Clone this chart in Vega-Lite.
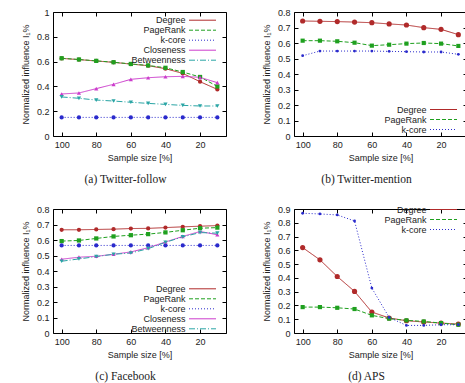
{
  "$schema": "https://vega.github.io/schema/vega-lite/v6.json",
  "padding": {"left": 20, "top": 7, "right": 0, "bottom": 0},
  "background": "white",
  "config": {
    "font": "Liberation Sans",
    "view": {"stroke": "black", "strokeWidth": 1},
    "axis": {"grid": false, "domain": false, "tickColor": "black", "tickSize": -4, "labelPadding": 8, "labelFontSize": 9, "labelColor": "#222", "titleFontSize": 9, "titleFontWeight": "normal", "titleColor": "#222", "labelFont": "Liberation Sans", "titleFont": "Liberation Sans"},
    "axisY": {"titlePadding": 6},
    "axisX": {"titlePadding": 4},
    "legend": {"symbolType": "M-3,0H3", "symbolSize": 81, "symbolStrokeWidth": 1, "labelAlign": "right", "labelOffset": -22, "rowPadding": 0, "labelFontSize": 9, "labelColor": "#222", "padding": 0, "title": null, "labelFont": "Liberation Sans"},
    "title": {"orient": "bottom", "font": "Liberation Serif", "fontSize": 11.5, "fontWeight": "normal", "color": "#222", "offset": 12, "dx": -14}
  },
  "datasets": {
    "a": [
      {"series": "Degree", "size": 100, "value": 0.626}, {"series": "Degree", "size": 90, "value": 0.616}, {"series": "Degree", "size": 80, "value": 0.605}, {"series": "Degree", "size": 70, "value": 0.594}, {"series": "Degree", "size": 60, "value": 0.58}, {"series": "Degree", "size": 50, "value": 0.567}, {"series": "Degree", "size": 40, "value": 0.543}, {"series": "Degree", "size": 30, "value": 0.505}, {"series": "Degree", "size": 20, "value": 0.438}, {"series": "Degree", "size": 10, "value": 0.376},
      {"series": "PageRank", "size": 100, "value": 0.627}, {"series": "PageRank", "size": 90, "value": 0.617}, {"series": "PageRank", "size": 80, "value": 0.606}, {"series": "PageRank", "size": 70, "value": 0.595}, {"series": "PageRank", "size": 60, "value": 0.581}, {"series": "PageRank", "size": 50, "value": 0.569}, {"series": "PageRank", "size": 40, "value": 0.55}, {"series": "PageRank", "size": 30, "value": 0.516}, {"series": "PageRank", "size": 20, "value": 0.476}, {"series": "PageRank", "size": 10, "value": 0.4},
      {"series": "k-core", "size": 100, "value": 0.15}, {"series": "k-core", "size": 90, "value": 0.15}, {"series": "k-core", "size": 80, "value": 0.15}, {"series": "k-core", "size": 70, "value": 0.15}, {"series": "k-core", "size": 60, "value": 0.15}, {"series": "k-core", "size": 50, "value": 0.15}, {"series": "k-core", "size": 40, "value": 0.15}, {"series": "k-core", "size": 30, "value": 0.15}, {"series": "k-core", "size": 20, "value": 0.15}, {"series": "k-core", "size": 10, "value": 0.15},
      {"series": "Closeness", "size": 100, "value": 0.339}, {"series": "Closeness", "size": 90, "value": 0.347}, {"series": "Closeness", "size": 80, "value": 0.382}, {"series": "Closeness", "size": 70, "value": 0.417}, {"series": "Closeness", "size": 60, "value": 0.457}, {"series": "Closeness", "size": 50, "value": 0.47}, {"series": "Closeness", "size": 40, "value": 0.478}, {"series": "Closeness", "size": 30, "value": 0.481}, {"series": "Closeness", "size": 20, "value": 0.473}, {"series": "Closeness", "size": 10, "value": 0.43},
      {"series": "Betweenness", "size": 100, "value": 0.315}, {"series": "Betweenness", "size": 90, "value": 0.304}, {"series": "Betweenness", "size": 80, "value": 0.29}, {"series": "Betweenness", "size": 70, "value": 0.282}, {"series": "Betweenness", "size": 60, "value": 0.272}, {"series": "Betweenness", "size": 50, "value": 0.263}, {"series": "Betweenness", "size": 40, "value": 0.255}, {"series": "Betweenness", "size": 30, "value": 0.247}, {"series": "Betweenness", "size": 20, "value": 0.242}, {"series": "Betweenness", "size": 10, "value": 0.242}
    ],
    "b": [
      {"series": "Degree", "size": 100, "value": 0.742}, {"series": "Degree", "size": 90, "value": 0.74}, {"series": "Degree", "size": 80, "value": 0.738}, {"series": "Degree", "size": 70, "value": 0.735}, {"series": "Degree", "size": 60, "value": 0.731}, {"series": "Degree", "size": 50, "value": 0.723}, {"series": "Degree", "size": 40, "value": 0.716}, {"series": "Degree", "size": 30, "value": 0.699}, {"series": "Degree", "size": 20, "value": 0.688}, {"series": "Degree", "size": 10, "value": 0.654},
      {"series": "PageRank", "size": 100, "value": 0.615}, {"series": "PageRank", "size": 90, "value": 0.615}, {"series": "PageRank", "size": 80, "value": 0.611}, {"series": "PageRank", "size": 70, "value": 0.602}, {"series": "PageRank", "size": 60, "value": 0.583}, {"series": "PageRank", "size": 50, "value": 0.589}, {"series": "PageRank", "size": 40, "value": 0.596}, {"series": "PageRank", "size": 30, "value": 0.6}, {"series": "PageRank", "size": 20, "value": 0.596}, {"series": "PageRank", "size": 10, "value": 0.581},
      {"series": "k-core", "size": 100, "value": 0.518}, {"series": "k-core", "size": 90, "value": 0.548}, {"series": "k-core", "size": 80, "value": 0.548}, {"series": "k-core", "size": 70, "value": 0.548}, {"series": "k-core", "size": 60, "value": 0.548}, {"series": "k-core", "size": 50, "value": 0.546}, {"series": "k-core", "size": 40, "value": 0.544}, {"series": "k-core", "size": 30, "value": 0.542}, {"series": "k-core", "size": 20, "value": 0.542}, {"series": "k-core", "size": 10, "value": 0.527}
    ],
    "c": [
      {"series": "Degree", "size": 100, "value": 0.666}, {"series": "Degree", "size": 90, "value": 0.666}, {"series": "Degree", "size": 80, "value": 0.668}, {"series": "Degree", "size": 70, "value": 0.67}, {"series": "Degree", "size": 60, "value": 0.674}, {"series": "Degree", "size": 50, "value": 0.675}, {"series": "Degree", "size": 40, "value": 0.68}, {"series": "Degree", "size": 30, "value": 0.685}, {"series": "Degree", "size": 20, "value": 0.689}, {"series": "Degree", "size": 10, "value": 0.693},
      {"series": "PageRank", "size": 100, "value": 0.593}, {"series": "PageRank", "size": 90, "value": 0.597}, {"series": "PageRank", "size": 80, "value": 0.61}, {"series": "PageRank", "size": 70, "value": 0.623}, {"series": "PageRank", "size": 60, "value": 0.631}, {"series": "PageRank", "size": 50, "value": 0.638}, {"series": "PageRank", "size": 40, "value": 0.649}, {"series": "PageRank", "size": 30, "value": 0.663}, {"series": "PageRank", "size": 20, "value": 0.676}, {"series": "PageRank", "size": 10, "value": 0.68},
      {"series": "k-core", "size": 100, "value": 0.565}, {"series": "k-core", "size": 90, "value": 0.565}, {"series": "k-core", "size": 80, "value": 0.565}, {"series": "k-core", "size": 70, "value": 0.565}, {"series": "k-core", "size": 60, "value": 0.565}, {"series": "k-core", "size": 50, "value": 0.565}, {"series": "k-core", "size": 40, "value": 0.565}, {"series": "k-core", "size": 30, "value": 0.565}, {"series": "k-core", "size": 20, "value": 0.565}, {"series": "k-core", "size": 10, "value": 0.565},
      {"series": "Closeness", "size": 100, "value": 0.476}, {"series": "Closeness", "size": 90, "value": 0.489}, {"series": "Closeness", "size": 80, "value": 0.495}, {"series": "Closeness", "size": 70, "value": 0.508}, {"series": "Closeness", "size": 60, "value": 0.523}, {"series": "Closeness", "size": 50, "value": 0.55}, {"series": "Closeness", "size": 40, "value": 0.587}, {"series": "Closeness", "size": 30, "value": 0.623}, {"series": "Closeness", "size": 20, "value": 0.655}, {"series": "Closeness", "size": 10, "value": 0.634},
      {"series": "Betweenness", "size": 100, "value": 0.463}, {"series": "Betweenness", "size": 90, "value": 0.478}, {"series": "Betweenness", "size": 80, "value": 0.493}, {"series": "Betweenness", "size": 70, "value": 0.508}, {"series": "Betweenness", "size": 60, "value": 0.516}, {"series": "Betweenness", "size": 50, "value": 0.544}, {"series": "Betweenness", "size": 40, "value": 0.585}, {"series": "Betweenness", "size": 30, "value": 0.62}, {"series": "Betweenness", "size": 20, "value": 0.648}, {"series": "Betweenness", "size": 10, "value": 0.644}
    ],
    "d": [
      {"series": "Degree", "size": 100, "value": 0.62}, {"series": "Degree", "size": 90, "value": 0.531}, {"series": "Degree", "size": 80, "value": 0.41}, {"series": "Degree", "size": 70, "value": 0.302}, {"series": "Degree", "size": 60, "value": 0.152}, {"series": "Degree", "size": 50, "value": 0.109}, {"series": "Degree", "size": 40, "value": 0.089}, {"series": "Degree", "size": 30, "value": 0.08}, {"series": "Degree", "size": 20, "value": 0.072}, {"series": "Degree", "size": 10, "value": 0.065},
      {"series": "PageRank", "size": 100, "value": 0.188}, {"series": "PageRank", "size": 90, "value": 0.188}, {"series": "PageRank", "size": 80, "value": 0.183}, {"series": "PageRank", "size": 70, "value": 0.174}, {"series": "PageRank", "size": 60, "value": 0.128}, {"series": "PageRank", "size": 50, "value": 0.104}, {"series": "PageRank", "size": 40, "value": 0.092}, {"series": "PageRank", "size": 30, "value": 0.084}, {"series": "PageRank", "size": 20, "value": 0.072}, {"series": "PageRank", "size": 10, "value": 0.06},
      {"series": "k-core", "size": 100, "value": 0.869}, {"series": "k-core", "size": 90, "value": 0.864}, {"series": "k-core", "size": 80, "value": 0.857}, {"series": "k-core", "size": 70, "value": 0.813}, {"series": "k-core", "size": 60, "value": 0.326}, {"series": "k-core", "size": 50, "value": 0.113}, {"series": "k-core", "size": 40, "value": 0.055}, {"series": "k-core", "size": 30, "value": 0.055}, {"series": "k-core", "size": 20, "value": 0.06}, {"series": "k-core", "size": 10, "value": 0.06}
    ]
  },
  "vconcat": [
    {
      "hconcat": [
        {
          "width": 173, "height": 124,
          "data": {"name": "a"},
          "title": {"text": "(a) Twitter-follow"},
          "encoding": {
            "x": {"field": "size", "type": "quantitative", "scale": {"domain": [5, 105], "reverse": true, "nice": false, "zero": false}, "axis": {"values": [100, 80, 60, 40, 20], "title": "Sample size [%]"}},
            "y": {"field": "value", "type": "quantitative", "scale": {"domain": [0, 1], "nice": false}, "axis": {"values": [0, 0.2, 0.4, 0.6, 0.8, 1], "format": "~g", "title": "Normalized influence I₁%"}},
            "color": {"field": "series", "type": "nominal", "scale": {"domain": ["Degree", "PageRank", "k-core", "Closeness", "Betweenness"], "range": ["#b02a2a", "#1fa01f", "#2a2acc", "#cc3ccc", "#2aa5a5"]}}
          },
          "layer": [
            {
              "mark": {"type": "line", "strokeWidth": 1},
              "encoding": {
                "color": {"field": "series", "type": "nominal", "legend": {"orient": "none", "legendX": 144.5, "legendY": 3.2}},
                "strokeDash": {"field": "series", "type": "nominal", "scale": {"domain": ["Degree", "PageRank", "k-core", "Closeness", "Betweenness"], "range": [[1, 0], [4, 2], [1, 2], [1, 0], [6, 2, 1, 2]]}, "legend": {"orient": "none", "legendX": 144.5, "legendY": 3.2}}
              }
            },
            {
              "mark": {"type": "point", "filled": true, "opacity": 1},
              "encoding": {
                "x": {"field": "size", "type": "quantitative", "axis": {"orient": "top", "values": [100, 80, 60, 40, 20], "labels": false, "ticks": true, "tickSize": -4, "title": null}},
                "y": {"field": "value", "type": "quantitative", "axis": {"orient": "right", "values": [0, 0.2, 0.4, 0.6, 0.8, 1], "labels": false, "ticks": true, "tickSize": -4, "title": null}},
                "color": {"field": "series", "type": "nominal", "legend": null},
                "shape": {"field": "series", "type": "nominal", "scale": {"domain": ["Betweenness", "Closeness", "k-core", "PageRank", "Degree", "_none"], "range": ["triangle-down", "triangle-up", "circle", "square", "circle", "circle"]}, "legend": null},
                "size": {"field": "series", "type": "nominal", "scale": {"domain": ["Betweenness", "Closeness", "k-core", "PageRank", "Degree", "_none"], "range": [18, 18, 8, 36, 18, 1]}, "legend": null}
              }
            }
          ],
          "resolve": {"axis": {"x": "independent", "y": "independent"}}
        },
        {
          "width": 173, "height": 124,
          "data": {"name": "b"},
          "title": {"text": "(b) Twitter-mention"},
          "encoding": {
            "x": {"field": "size", "type": "quantitative", "scale": {"domain": [5, 105], "reverse": true, "nice": false, "zero": false}, "axis": {"values": [100, 80, 60, 40, 20], "title": "Sample size [%]"}},
            "y": {"field": "value", "type": "quantitative", "scale": {"domain": [0, 0.8], "nice": false}, "axis": {"values": [0, 0.1, 0.2, 0.3, 0.4, 0.5, 0.6, 0.7, 0.8], "format": "~g", "title": "Normalized influence I₁%"}},
            "color": {"field": "series", "type": "nominal", "scale": {"domain": ["Degree", "PageRank", "k-core"], "range": ["#b02a2a", "#1fa01f", "#2a2acc"]}}
          },
          "layer": [
            {
              "mark": {"type": "line", "strokeWidth": 1},
              "encoding": {
                "color": {"field": "series", "type": "nominal", "legend": {"orient": "none", "legendX": 144.5, "legendY": 92.5}},
                "strokeDash": {"field": "series", "type": "nominal", "scale": {"domain": ["Degree", "PageRank", "k-core"], "range": [[1, 0], [4, 2], [1, 2]]}, "legend": {"orient": "none", "legendX": 144.5, "legendY": 92.5, "symbolStrokeColor": "#000", "encode": {"symbols": {"update": {"stroke": {"value": {"expr": "datum.value === 'Degree' ? '#b02a2a' : datum.value === 'PageRank' ? '#1fa01f' : '#2a2acc'"}}}}}}}
              }
            },
            {
              "mark": {"type": "point", "filled": true, "opacity": 1},
              "encoding": {
                "x": {"field": "size", "type": "quantitative", "axis": {"orient": "top", "values": [100, 80, 60, 40, 20], "labels": false, "ticks": true, "tickSize": -4, "title": null}},
                "y": {"field": "value", "type": "quantitative", "axis": {"orient": "right", "values": [0, 0.1, 0.2, 0.3, 0.4, 0.5, 0.6, 0.7, 0.8], "labels": false, "ticks": true, "tickSize": -4, "title": null}},
                "color": {"field": "series", "type": "nominal", "legend": null},
                "shape": {"field": "series", "type": "nominal", "scale": {"domain": ["k-core", "PageRank", "Degree", "_none"], "range": ["circle", "square", "circle", "circle"]}, "legend": null},
                "size": {"field": "series", "type": "nominal", "scale": {"domain": ["k-core", "PageRank", "Degree", "_none"], "range": [8, 36, 18, 1]}, "legend": null}
              }
            }
          ],
          "resolve": {"axis": {"x": "independent", "y": "independent"}}
        }
      ],
      "spacing": 68,
      "bounds": "flush",
      "resolve": {"scale": {"color": "independent", "strokeDash": "independent", "shape": "independent", "size": "independent"}, "legend": {"color": "independent", "strokeDash": "independent"}}
    },
    {
      "hconcat": [
        {
          "width": 173, "height": 124,
          "data": {"name": "c"},
          "title": {"text": "(c) Facebook"},
          "encoding": {
            "x": {"field": "size", "type": "quantitative", "scale": {"domain": [5, 105], "reverse": true, "nice": false, "zero": false}, "axis": {"values": [100, 80, 60, 40, 20], "title": "Sample size [%]"}},
            "y": {"field": "value", "type": "quantitative", "scale": {"domain": [0, 0.8], "nice": false}, "axis": {"values": [0, 0.1, 0.2, 0.3, 0.4, 0.5, 0.6, 0.7, 0.8], "format": "~g", "title": "Normalized influence I₁%"}},
            "color": {"field": "series", "type": "nominal", "scale": {"domain": ["Degree", "PageRank", "k-core", "Closeness", "Betweenness"], "range": ["#b02a2a", "#1fa01f", "#2a2acc", "#cc3ccc", "#2aa5a5"]}}
          },
          "layer": [
            {
              "mark": {"type": "line", "strokeWidth": 1},
              "encoding": {
                "color": {"field": "series", "type": "nominal", "legend": {"orient": "none", "legendX": 144.5, "legendY": 74.8}},
                "strokeDash": {"field": "series", "type": "nominal", "scale": {"domain": ["Degree", "PageRank", "k-core", "Closeness", "Betweenness"], "range": [[1, 0], [4, 2], [1, 2], [1, 0], [6, 2, 1, 2]]}, "legend": {"orient": "none", "legendX": 144.5, "legendY": 74.8}}
              }
            },
            {
              "mark": {"type": "point", "filled": true, "opacity": 1},
              "encoding": {
                "x": {"field": "size", "type": "quantitative", "axis": {"orient": "top", "values": [100, 80, 60, 40, 20], "labels": false, "ticks": true, "tickSize": -4, "title": null}},
                "y": {"field": "value", "type": "quantitative", "axis": {"orient": "right", "values": [0, 0.1, 0.2, 0.3, 0.4, 0.5, 0.6, 0.7, 0.8], "labels": false, "ticks": true, "tickSize": -4, "title": null}},
                "color": {"field": "series", "type": "nominal", "legend": null},
                "shape": {"field": "series", "type": "nominal", "scale": {"domain": ["Betweenness", "Closeness", "k-core", "PageRank", "Degree", "_none"], "range": ["triangle-down", "triangle-up", "circle", "square", "circle", "circle"]}, "legend": null},
                "size": {"field": "series", "type": "nominal", "scale": {"domain": ["Betweenness", "Closeness", "k-core", "PageRank", "Degree", "_none"], "range": [18, 18, 8, 36, 18, 1]}, "legend": null}
              }
            }
          ],
          "resolve": {"axis": {"x": "independent", "y": "independent"}}
        },
        {
          "width": 173, "height": 124,
          "data": {"name": "d"},
          "title": {"text": "(d) APS"},
          "encoding": {
            "x": {"field": "size", "type": "quantitative", "scale": {"domain": [5, 105], "reverse": true, "nice": false, "zero": false}, "axis": {"values": [100, 80, 60, 40, 20], "title": "Sample size [%]"}},
            "y": {"field": "value", "type": "quantitative", "scale": {"domain": [0, 0.9], "nice": false}, "axis": {"values": [0, 0.1, 0.2, 0.3, 0.4, 0.5, 0.6, 0.7, 0.8, 0.9], "format": "~g", "title": "Normalized influence I₁%"}},
            "color": {"field": "series", "type": "nominal", "scale": {"domain": ["Degree", "PageRank", "k-core"], "range": ["#b02a2a", "#1fa01f", "#2a2acc"]}}
          },
          "layer": [
            {
              "mark": {"type": "line", "strokeWidth": 1},
              "encoding": {
                "color": {"field": "series", "type": "nominal", "legend": {"orient": "none", "legendX": 144.5, "legendY": -4.5}},
                "strokeDash": {"field": "series", "type": "nominal", "scale": {"domain": ["Degree", "PageRank", "k-core"], "range": [[1, 0], [4, 2], [1, 2]]}, "legend": {"orient": "none", "legendX": 144.5, "legendY": -4.5, "symbolStrokeColor": "#000", "encode": {"symbols": {"update": {"stroke": {"value": {"expr": "datum.value === 'Degree' ? '#b02a2a' : datum.value === 'PageRank' ? '#1fa01f' : '#2a2acc'"}}}}}}}
              }
            },
            {
              "mark": {"type": "point", "filled": true, "opacity": 1},
              "encoding": {
                "x": {"field": "size", "type": "quantitative", "axis": {"orient": "top", "values": [100, 80, 60, 40, 20], "labels": false, "ticks": true, "tickSize": -4, "title": null}},
                "y": {"field": "value", "type": "quantitative", "axis": {"orient": "right", "values": [0, 0.1, 0.2, 0.3, 0.4, 0.5, 0.6, 0.7, 0.8, 0.9], "labels": false, "ticks": true, "tickSize": -4, "title": null}},
                "color": {"field": "series", "type": "nominal", "legend": null},
                "shape": {"field": "series", "type": "nominal", "scale": {"domain": ["k-core", "PageRank", "Degree", "_none"], "range": ["circle", "square", "circle", "circle"]}, "legend": null},
                "size": {"field": "series", "type": "nominal", "scale": {"domain": ["k-core", "PageRank", "Degree", "_none"], "range": [8, 36, 18, 1]}, "legend": null}
              }
            }
          ],
          "resolve": {"axis": {"x": "independent", "y": "independent"}}
        }
      ],
      "spacing": 68,
      "bounds": "flush",
      "resolve": {"scale": {"color": "independent", "strokeDash": "independent", "shape": "independent", "size": "independent"}, "legend": {"color": "independent", "strokeDash": "independent"}}
    }
  ],
  "spacing": 18,
  "resolve": {"scale": {"color": "independent", "strokeDash": "independent", "shape": "independent", "size": "independent"}}
}
